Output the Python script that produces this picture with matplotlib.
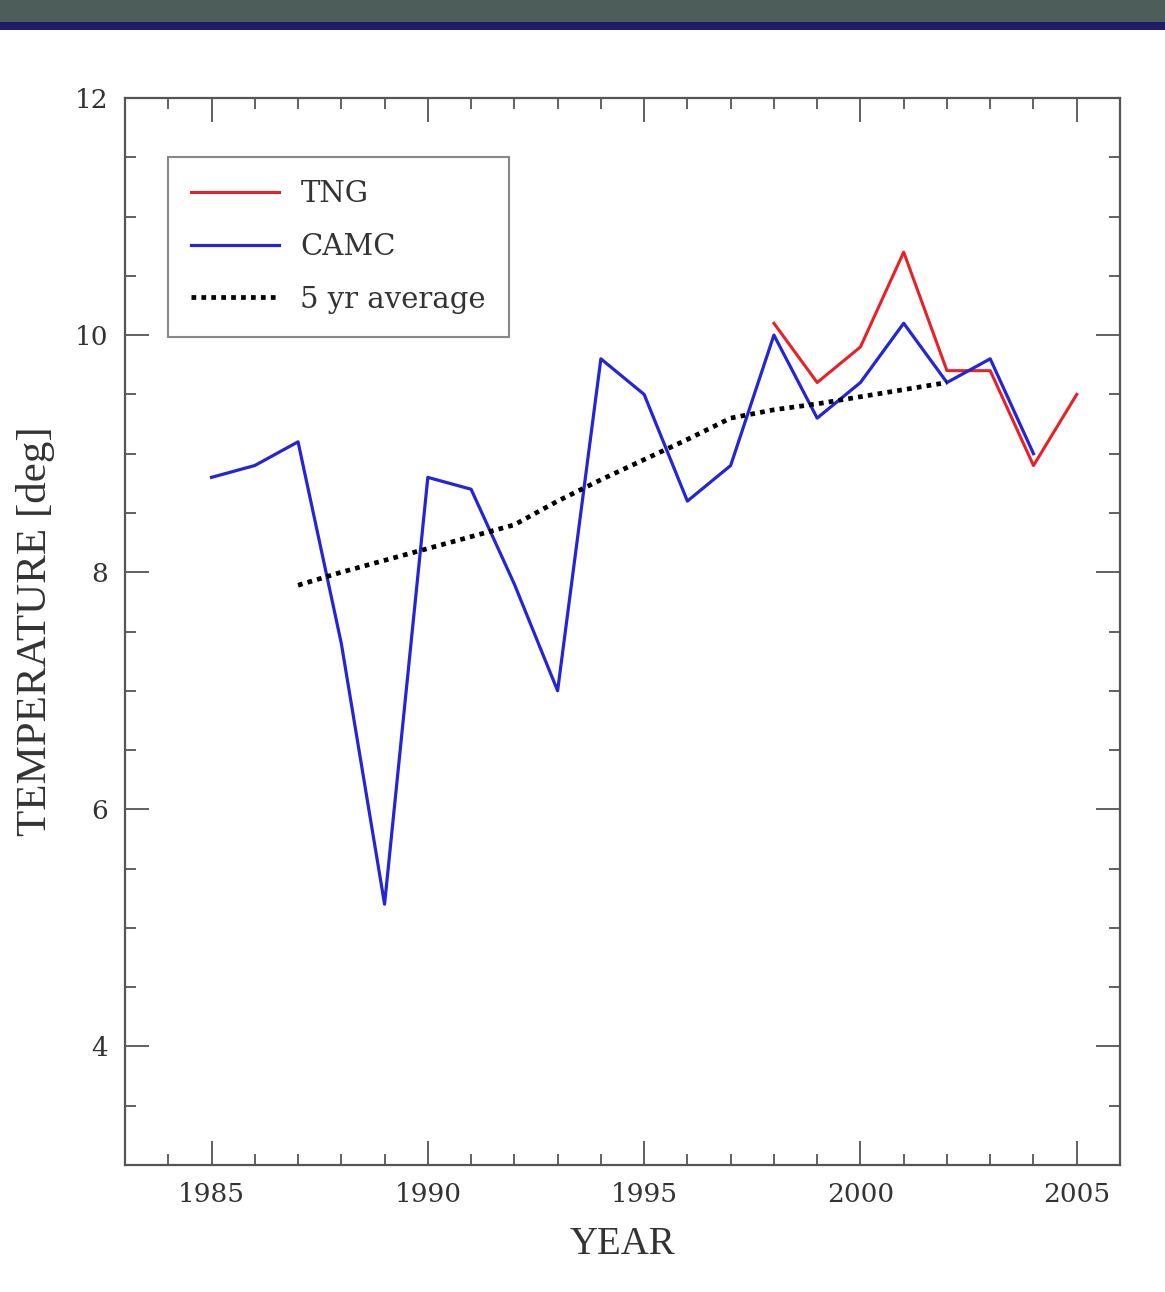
import matplotlib
matplotlib.use("Agg")
import matplotlib.pyplot as plt
from matplotlib.ticker import MultipleLocator
from matplotlib.patches import Rectangle

camc_years = [1985, 1986, 1987, 1988, 1989, 1990, 1991, 1992, 1993, 1994,
              1995, 1996, 1997, 1998, 1999, 2000, 2001, 2002, 2003, 2004]
camc_temp = [8.8, 8.9, 9.1, 7.4, 5.2, 8.8, 8.7, 7.9, 7.0, 9.8,
             9.5, 8.6, 8.9, 10.0, 9.3, 9.6, 10.1, 9.6, 9.8, 9.0]

tng_years = [1998, 1999, 2000, 2001, 2002, 2003, 2004, 2005]
tng_temp = [10.1, 9.6, 9.9, 10.7, 9.7, 9.7, 8.9, 9.5]

avg_years = [1987, 1988, 1989, 1990, 1991, 1992, 1993, 1994,
             1995, 1996, 1997, 1998, 1999, 2000, 2001, 2002]
avg_temp = [7.89, 8.0, 8.1, 8.2, 8.3, 8.4, 8.6, 8.78,
            8.95, 9.12, 9.3, 9.37, 9.42, 9.48, 9.54, 9.6]

fig = plt.figure(figsize=(11.65, 12.92), dpi=100)
fig.patch.set_facecolor("white")

# top banner
fig.add_artist(Rectangle((0, 1 - 23 / 1292), 1, 23 / 1292, transform=fig.transFigure,
                         facecolor="#4d5e5a", edgecolor="none", zorder=0))
fig.add_artist(Rectangle((0, 1 - 30 / 1292), 1, 8 / 1292, transform=fig.transFigure,
                         facecolor="#1e1c6c", edgecolor="none", zorder=0))

ax = fig.add_axes([125 / 1165, 1 - 1165 / 1292, 995 / 1165, 1067 / 1292])

ax.plot(tng_years, tng_temp, color="#e82028", lw=2.2, label="TNG", zorder=3)
ax.plot(camc_years, camc_temp, color="#2424d8", lw=2.3, label="CAMC", zorder=4)
ax.plot(avg_years, avg_temp, color="black", lw=3.4, ls=(0, (1, 1.1)), label="5 yr average", zorder=5)

ax.set_xlim(1983, 2006)
ax.set_ylim(3, 12)
ax.xaxis.set_major_locator(MultipleLocator(5))
ax.xaxis.set_minor_locator(MultipleLocator(1))
ax.yaxis.set_major_locator(MultipleLocator(2))
ax.yaxis.set_minor_locator(MultipleLocator(0.5))

for s in ax.spines.values():
    s.set_color("#555555")
    s.set_linewidth(1.6)

ax.tick_params(which="both", direction="in", top=True, right=True, color="#555555", width=1.3)
ax.tick_params(which="major", length=17, pad=12, labelsize=19, labelcolor="#333333")
ax.tick_params(which="minor", length=8)
for lab in ax.get_xticklabels() + ax.get_yticklabels():
    lab.set_family("DejaVu Serif")

ax.set_xlabel("YEAR", family="Liberation Serif", fontsize=28, color="#333333", labelpad=14)
ax.set_ylabel("TEMPERATURE [deg]", family="Liberation Serif", fontsize=31, color="#333333", labelpad=14)

leg = ax.legend(loc="upper left", bbox_to_anchor=(0.043, 0.945), borderaxespad=0,
                fancybox=False, edgecolor="#888888", framealpha=1,
                prop={"family": "DejaVu Serif", "size": 21},
                handlelength=3.0, handletextpad=0.75, labelspacing=0.85,
                borderpad=0.8)
leg.get_frame().set_linewidth(1.5)
for t in leg.get_texts():
    t.set_color("#333333")

fig.savefig("out.png", dpi=100)
